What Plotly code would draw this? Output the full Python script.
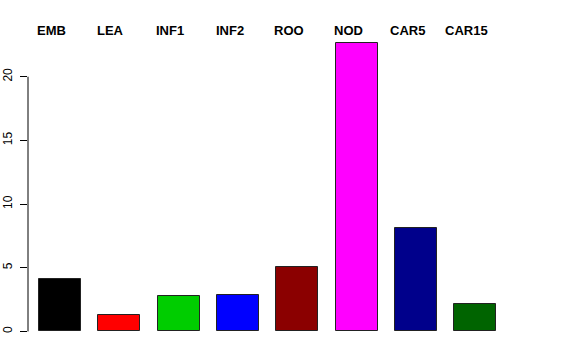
import plotly.graph_objects as go

categories = ["EMB", "LEA", "INF1", "INF2", "ROO", "NOD", "CAR5", "CAR15"]
values = [4.09, 1.31, 2.76, 2.83, 5.06, 22.68, 8.11, 2.13]
colors = ["#000000", "#FF0000", "#00CD00", "#0000FF", "#8B0000", "#FF00FF", "#00008B", "#006400"]
y_ticks = [0, 5, 10, 15, 20]

# R barplot layout: width 1, space 0.2
centers = [0.7 + 1.2 * i for i in range(len(categories))]

fig = go.Figure()
fig.add_trace(go.Bar(
    x=centers, y=values, width=0.85,
    marker=dict(color=colors, line=dict(color="#222222", width=1)),
    showlegend=False, hoverinfo="skip",
))

for c, lab in zip(centers, categories):
    fig.add_annotation(x=c - 0.17, y=1.003, xref="x", yref="paper", text="<b>%s</b>" % lab,
                       showarrow=False, xanchor="center", yanchor="middle",
                       font=dict(family="Liberation Sans, Arial, sans-serif", size=13, color="black"))

fig.add_shape(type="line", xref="paper", yref="y", x0=0, x1=0, y0=y_ticks[0], y1=y_ticks[-1],
              line=dict(color="black", width=1))

fig.update_layout(
    width=576, height=360,
    margin=dict(l=28, r=55, t=31, b=17, autoexpand=False),
    plot_bgcolor="white", paper_bgcolor="white",
    bargap=0,
    xaxis=dict(range=[0.05, 10.03], visible=False, showgrid=False, zeroline=False, automargin=False),
    yaxis=dict(range=[-0.907, 23.59], tickvals=y_ticks, ticktext=[str(v) for v in y_ticks],
               ticks="outside", ticklen=7, tickcolor="black", tickwidth=1,
               tickangle=-90, showgrid=False, zeroline=False, showline=False,
               ticklabelstandoff=3, automargin=False,
               tickfont=dict(family="Liberation Sans, Arial, sans-serif", size=12, color="black")),
)

fig.write_html("out.html")
